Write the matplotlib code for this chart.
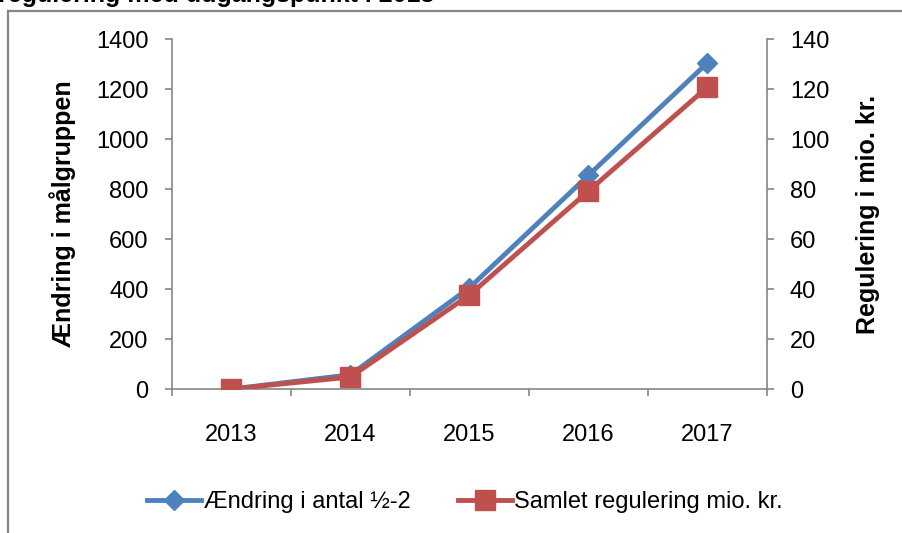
import matplotlib
matplotlib.use("Agg")
import matplotlib.pyplot as plt
from matplotlib.lines import Line2D

plt.rcParams['font.family'] = ['Liberation Sans', 'DejaVu Sans']

years = ["2013", "2014", "2015", "2016", "2017"]
aendring_antal = [0, 57, 405, 855, 1305]       # left axis
samlet_regulering = [0, 4.8, 37.6, 79.2, 120.8]  # right axis, mio. kr.

left_ticks = [0, 200, 400, 600, 800, 1000, 1200, 1400]
right_ticks = [0, 20, 40, 60, 80, 100, 120, 140]

W, H = 903, 533
fig = plt.figure(figsize=(W / 100, H / 100), dpi=100)

blue = '#4F81BD'
red = '#C0504D'
grey = '#868686'

# outer chart frame (right and bottom edges lie outside the picture)
fig.add_artist(Line2D([8 / W, 8 / W], [1 - 11 / H, -0.1], color=grey, lw=1.6, transform=fig.transFigure))
fig.add_artist(Line2D([8 / W, 1.1], [1 - 11 / H, 1 - 11 / H], color=grey, lw=1.6, transform=fig.transFigure))

# cut-off title
fig.text(-2 / W, 1 - 2 / H, "regulering med udgangspunkt i 2013", fontsize=18, fontweight='bold',
         va='baseline', ha='left')

ax = fig.add_axes([172 / W, 1 - 389 / H, (767 - 172) / W, (389 - 39) / H])
ax2 = ax.twinx()

x = list(range(len(years)))
ax.plot(x, aendring_antal, color=blue, lw=3.5, marker='D', markersize=10.5, label='Ændring i antal ½-2', zorder=3)
ax2.plot(x, samlet_regulering, color=red, lw=3.5, marker='s', markersize=14, label='Samlet regulering mio. kr.', zorder=3)

ax.set_xlim(-0.5, 4.5)
ax.set_ylim(0, 1400)
ax2.set_ylim(0, 140)
ax.set_yticks(left_ticks)
ax2.set_yticks(right_ticks)

# category labels centred, ticks on category boundaries
ax.set_xticks([p - 0.5 for p in range(len(years) + 1)])
ax.set_xticklabels([])
ax.set_xticks(x, minor=True)
ax.set_xticklabels(years, minor=True, fontsize=17)
ax.tick_params(axis='x', which='minor', length=0, pad=25)
ax.tick_params(axis='x', which='major', length=5, color=grey, width=1.2, direction='out')

ax.tick_params(axis='y', length=5, color=grey, width=1.2, labelsize=17, pad=12)
ax2.tick_params(axis='y', length=5, color=grey, width=1.2, labelsize=17, pad=11.5)

for a in (ax, ax2):
    a.spines['top'].set_visible(False)
    for s in ('left', 'right', 'bottom'):
        a.spines[s].set_color(grey)
        a.spines[s].set_linewidth(1.2)
ax.spines['right'].set_visible(False)
ax2.spines['left'].set_visible(False)
ax2.spines['bottom'].set_visible(False)

ax.set_ylabel("Ændring i målgruppen", fontsize=18, fontweight='bold')
ax.yaxis.set_label_coords(-0.161, 0.5)
ax2.set_ylabel("Regulering i mio. kr.", fontsize=18, fontweight='bold', rotation=90)
ax2.yaxis.set_label_coords(1.15, 0.5)

h1, l1 = ax.get_legend_handles_labels()
h2, l2 = ax2.get_legend_handles_labels()
fig.legend(h1 + h2, l1 + l2, loc='center', bbox_to_anchor=(465 / W, 1 - 502 / H), ncol=2,
           frameon=False, fontsize=17, handlelength=2.3, handletextpad=0.1, columnspacing=2.0)

fig.savefig("out.png", dpi=100)
